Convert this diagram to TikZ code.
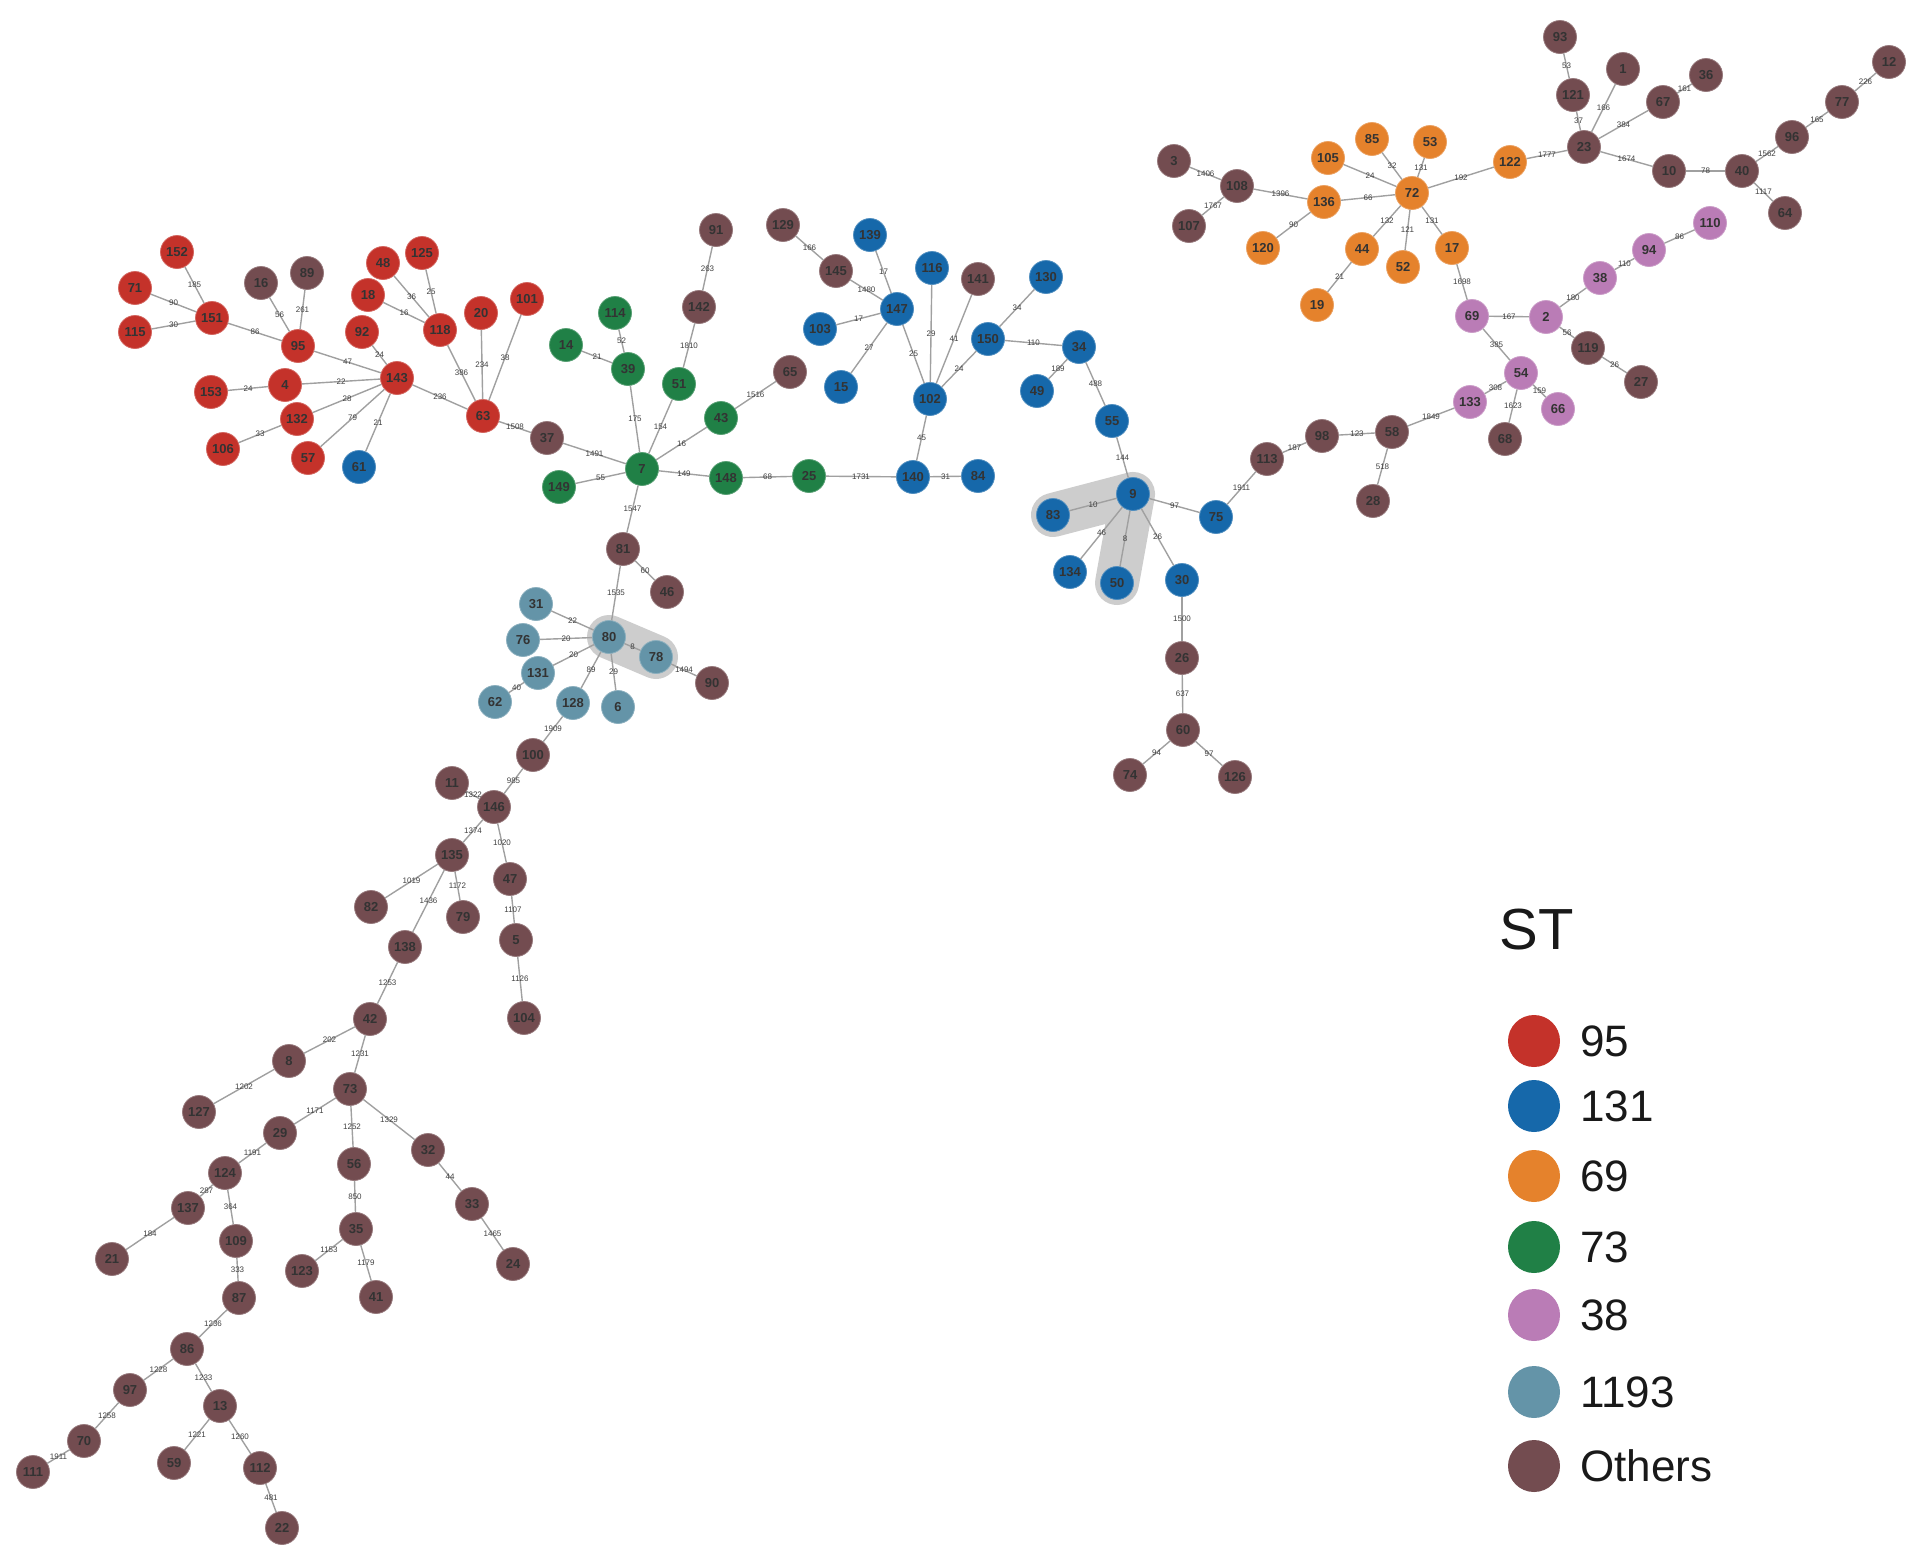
\documentclass[tikz,border=0pt]{standalone}
\usepackage{fontspec}
\setmainfont{Liberation Sans}
\usetikzlibrary{backgrounds}
\definecolor{cRed}{RGB}{196,50,42}
\definecolor{cBlue}{RGB}{22,104,170}
\definecolor{cOrange}{RGB}{229,130,44}
\definecolor{cGreen}{RGB}{32,128,70}
\definecolor{cPink}{RGB}{186,124,182}
\definecolor{cTeal}{RGB}{100,148,168}
\definecolor{cBrown}{RGB}{115,76,80}
\definecolor{cEdge}{RGB}{160,160,160}
\definecolor{cHl}{RGB}{205,205,205}
\tikzset{
  st/.style={circle, minimum size=33pt, inner sep=0pt, line width=0.8pt,
    font=\fontsize{13}{13}\selectfont\bfseries, text=black!80},
  sRed/.style={st, fill=cRed, draw=cRed!75!white},
  sBlue/.style={st, fill=cBlue, draw=cBlue!75!white},
  sOrange/.style={st, fill=cOrange, draw=cOrange!75!white},
  sGreen/.style={st, fill=cGreen, draw=cGreen!75!white},
  sPink/.style={st, fill=cPink, draw=cPink!75!white},
  sTeal/.style={st, fill=cTeal, draw=cTeal!75!white},
  sBrown/.style={st, fill=cBrown, draw=cBrown!75!white},
  conn/.style={draw=cEdge, line width=1.4pt},
  elab/.style={font=\fontsize{8}{8}\selectfont, text=black!75, inner sep=0pt},
  hl/.style={draw=cHl, line width=44pt, line cap=round, line join=round},
  legdot/.style={circle, minimum size=52pt, inner sep=0pt},
  legtxt/.style={anchor=west, font=\fontsize{44}{44}\selectfont, text=black!90, inner sep=0pt}
}
\newcommand\mstnode[4]{\node[#1] (n#2) at (#3,#4) {#2};}
\newcommand\mstedge[3]{\draw[conn] (n#1) -- node[elab]{#3} (n#2);}
\begin{document}
\begin{tikzpicture}[x=1pt, y=-1pt]
\useasboundingbox (0,0) rectangle (1927,1559);
% ---- red cluster
\mstnode{sRed}{152}{177}{252}
\mstnode{sRed}{71}{135}{288}
\mstnode{sRed}{115}{135}{332}
\mstnode{sRed}{151}{212}{318}
\mstnode{sRed}{95}{298}{346}
\mstnode{sRed}{92}{362}{332}
\mstnode{sRed}{48}{383}{263}
\mstnode{sRed}{125}{422}{253}
\mstnode{sRed}{18}{368}{295}
\mstnode{sRed}{118}{440}{330}
\mstnode{sRed}{20}{481}{313}
\mstnode{sRed}{101}{527}{299}
\mstnode{sRed}{143}{397}{378}
\mstnode{sRed}{4}{285}{385}
\mstnode{sRed}{153}{211}{392}
\mstnode{sRed}{132}{297}{419}
\mstnode{sRed}{106}{223}{449}
\mstnode{sRed}{57}{308}{458}
\mstnode{sRed}{63}{483}{416}
\mstnode{sBrown}{16}{261}{283}
\mstnode{sBrown}{89}{307}{273}
\mstnode{sBrown}{37}{547}{438}
\mstnode{sBlue}{61}{359}{467}
% ---- green cluster
\mstnode{sGreen}{14}{566}{345}
\mstnode{sGreen}{114}{615}{313}
\mstnode{sGreen}{39}{628}{369}
\mstnode{sGreen}{51}{679}{384}
\mstnode{sGreen}{43}{721}{418}
\mstnode{sGreen}{7}{642}{469}
\mstnode{sGreen}{149}{559}{487}
\mstnode{sGreen}{148}{726}{478}
\mstnode{sGreen}{25}{809}{476}
\mstnode{sBrown}{91}{716}{230}
\mstnode{sBrown}{142}{699}{307}
\mstnode{sBrown}{65}{790}{372}
\mstnode{sBrown}{129}{783}{225}
\mstnode{sBrown}{145}{836}{271}
\mstnode{sBrown}{141}{978}{279}
% ---- blue cluster
\mstnode{sBlue}{139}{870}{235}
\mstnode{sBlue}{116}{932}{268}
\mstnode{sBlue}{147}{897}{309}
\mstnode{sBlue}{103}{820}{329}
\mstnode{sBlue}{15}{841}{387}
\mstnode{sBlue}{102}{930}{399}
\mstnode{sBlue}{150}{988}{339}
\mstnode{sBlue}{140}{913}{477}
\mstnode{sBlue}{84}{978}{476}
\mstnode{sBlue}{130}{1046}{277}
\mstnode{sBlue}{34}{1079}{347}
\mstnode{sBlue}{49}{1037}{391}
\mstnode{sBlue}{55}{1112}{421}
\mstnode{sBlue}{9}{1133}{494}
\mstnode{sBlue}{83}{1053}{515}
\mstnode{sBlue}{134}{1070}{572}
\mstnode{sBlue}{50}{1117}{583}
\mstnode{sBlue}{30}{1182}{580}
\mstnode{sBlue}{75}{1216}{517}
\mstnode{sBrown}{113}{1267}{459}
\mstnode{sBrown}{98}{1322}{436}
\mstnode{sBrown}{58}{1392}{432}
\mstnode{sBrown}{28}{1373}{501}
\mstnode{sBrown}{26}{1182}{658}
\mstnode{sBrown}{60}{1183}{730}
\mstnode{sBrown}{74}{1130}{775}
\mstnode{sBrown}{126}{1235}{777}
% ---- orange cluster
\mstnode{sOrange}{105}{1328}{158}
\mstnode{sOrange}{85}{1372}{139}
\mstnode{sOrange}{53}{1430}{142}
\mstnode{sOrange}{72}{1412}{193}
\mstnode{sOrange}{136}{1324}{202}
\mstnode{sOrange}{120}{1263}{248}
\mstnode{sOrange}{44}{1362}{249}
\mstnode{sOrange}{52}{1403}{267}
\mstnode{sOrange}{17}{1452}{248}
\mstnode{sOrange}{19}{1317}{305}
\mstnode{sOrange}{122}{1510}{162}
\mstnode{sBrown}{3}{1174}{161}
\mstnode{sBrown}{108}{1237}{186}
\mstnode{sBrown}{107}{1189}{226}
% ---- top right
\mstnode{sBrown}{93}{1560}{37}
\mstnode{sBrown}{121}{1573}{95}
\mstnode{sBrown}{23}{1584}{147}
\mstnode{sBrown}{1}{1623}{69}
\mstnode{sBrown}{67}{1663}{102}
\mstnode{sBrown}{36}{1706}{75}
\mstnode{sBrown}{10}{1669}{171}
\mstnode{sBrown}{40}{1742}{171}
\mstnode{sBrown}{96}{1792}{137}
\mstnode{sBrown}{77}{1842}{102}
\mstnode{sBrown}{12}{1889}{62}
\mstnode{sBrown}{64}{1785}{213}
% ---- pink cluster
\mstnode{sPink}{110}{1710}{223}
\mstnode{sPink}{94}{1649}{250}
\mstnode{sPink}{38}{1600}{278}
\mstnode{sPink}{2}{1546}{317}
\mstnode{sPink}{69}{1472}{316}
\mstnode{sPink}{54}{1521}{373}
\mstnode{sPink}{133}{1470}{402}
\mstnode{sPink}{66}{1558}{409}
\mstnode{sBrown}{119}{1588}{348}
\mstnode{sBrown}{27}{1641}{382}
\mstnode{sBrown}{68}{1505}{439}
% ---- 1193 cluster
\mstnode{sTeal}{31}{536}{604}
\mstnode{sTeal}{80}{609}{637}
\mstnode{sTeal}{76}{523}{640}
\mstnode{sTeal}{78}{656}{657}
\mstnode{sTeal}{131}{538}{673}
\mstnode{sTeal}{62}{495}{702}
\mstnode{sTeal}{128}{573}{703}
\mstnode{sTeal}{6}{618}{707}
\mstnode{sBrown}{81}{623}{549}
\mstnode{sBrown}{46}{667}{592}
\mstnode{sBrown}{90}{712}{683}
% ---- lower chain
\mstnode{sBrown}{100}{533}{755}
\mstnode{sBrown}{11}{452}{783}
\mstnode{sBrown}{146}{494}{807}
\mstnode{sBrown}{135}{452}{855}
\mstnode{sBrown}{47}{510}{879}
\mstnode{sBrown}{82}{371}{907}
\mstnode{sBrown}{79}{463}{917}
\mstnode{sBrown}{5}{516}{940}
\mstnode{sBrown}{138}{405}{947}
\mstnode{sBrown}{104}{524}{1018}
\mstnode{sBrown}{42}{370}{1019}
\mstnode{sBrown}{8}{289}{1061}
\mstnode{sBrown}{127}{199}{1112}
\mstnode{sBrown}{73}{350}{1089}
\mstnode{sBrown}{29}{280}{1133}
\mstnode{sBrown}{56}{354}{1164}
\mstnode{sBrown}{32}{428}{1150}
\mstnode{sBrown}{124}{225}{1173}
\mstnode{sBrown}{137}{188}{1208}
\mstnode{sBrown}{109}{236}{1241}
\mstnode{sBrown}{33}{472}{1204}
\mstnode{sBrown}{35}{356}{1229}
\mstnode{sBrown}{123}{302}{1271}
\mstnode{sBrown}{41}{376}{1297}
\mstnode{sBrown}{24}{513}{1264}
\mstnode{sBrown}{87}{239}{1298}
\mstnode{sBrown}{21}{112}{1259}
\mstnode{sBrown}{86}{187}{1349}
\mstnode{sBrown}{97}{130}{1390}
\mstnode{sBrown}{13}{220}{1406}
\mstnode{sBrown}{70}{84}{1441}
\mstnode{sBrown}{111}{33}{1472}
\mstnode{sBrown}{59}{174}{1463}
\mstnode{sBrown}{112}{260}{1468}
\mstnode{sBrown}{22}{282}{1528}
% ---- highlights
\begin{scope}[on background layer]
\draw[hl] (n83.center) -- (n9.center) -- (n50.center);
\draw[hl] (n80.center) -- (n78.center);
\end{scope}
% ---- edges
\mstedge{152}{151}{185}
\mstedge{71}{151}{90}
\mstedge{115}{151}{30}
\mstedge{151}{95}{86}
\mstedge{16}{95}{56}
\mstedge{89}{95}{261}
\mstedge{95}{143}{47}
\mstedge{92}{143}{24}
\mstedge{4}{143}{22}
\mstedge{153}{4}{24}
\mstedge{132}{143}{28}
\mstedge{106}{132}{33}
\mstedge{57}{143}{79}
\mstedge{61}{143}{21}
\mstedge{143}{63}{236}
\mstedge{18}{118}{16}
\mstedge{48}{118}{36}
\mstedge{125}{118}{25}
\mstedge{118}{63}{386}
\mstedge{20}{63}{234}
\mstedge{101}{63}{38}
\mstedge{63}{37}{1508}
\mstedge{37}{7}{1491}
\mstedge{14}{39}{21}
\mstedge{114}{39}{52}
\mstedge{39}{7}{175}
\mstedge{51}{7}{154}
\mstedge{142}{51}{1810}
\mstedge{91}{142}{263}
\mstedge{43}{7}{16}
\mstedge{65}{43}{1516}
\mstedge{149}{7}{55}
\mstedge{7}{148}{149}
\mstedge{148}{25}{68}
\mstedge{25}{140}{1731}
\mstedge{7}{81}{1547}
\mstedge{140}{84}{31}
\mstedge{140}{102}{45}
\mstedge{102}{147}{25}
\mstedge{102}{116}{29}
\mstedge{102}{141}{41}
\mstedge{102}{150}{24}
\mstedge{147}{139}{17}
\mstedge{147}{145}{1480}
\mstedge{145}{129}{166}
\mstedge{147}{103}{17}
\mstedge{147}{15}{27}
\mstedge{150}{130}{34}
\mstedge{150}{34}{110}
\mstedge{34}{49}{189}
\mstedge{34}{55}{488}
\mstedge{55}{9}{144}
\mstedge{9}{83}{10}
\mstedge{9}{134}{46}
\mstedge{9}{50}{8}
\mstedge{9}{30}{26}
\mstedge{9}{75}{97}
\mstedge{75}{113}{1911}
\mstedge{113}{98}{187}
\mstedge{98}{58}{123}
\mstedge{58}{28}{518}
\mstedge{58}{133}{1849}
\mstedge{30}{26}{1500}
\mstedge{26}{60}{637}
\mstedge{60}{74}{94}
\mstedge{60}{126}{97}
\mstedge{133}{54}{308}
\mstedge{54}{66}{159}
\mstedge{54}{68}{1623}
\mstedge{54}{69}{385}
\mstedge{69}{2}{167}
\mstedge{69}{17}{1698}
\mstedge{2}{38}{180}
\mstedge{38}{94}{110}
\mstedge{94}{110}{86}
\mstedge{2}{119}{56}
\mstedge{119}{27}{26}
\mstedge{72}{105}{24}
\mstedge{72}{85}{32}
\mstedge{72}{53}{131}
\mstedge{72}{136}{66}
\mstedge{72}{44}{132}
\mstedge{72}{52}{121}
\mstedge{72}{17}{131}
\mstedge{72}{122}{192}
\mstedge{136}{108}{1396}
\mstedge{136}{120}{90}
\mstedge{44}{19}{21}
\mstedge{108}{3}{1406}
\mstedge{108}{107}{1767}
\mstedge{122}{23}{1777}
\mstedge{23}{121}{37}
\mstedge{121}{93}{53}
\mstedge{23}{1}{166}
\mstedge{23}{67}{384}
\mstedge{67}{36}{161}
\mstedge{23}{10}{1674}
\mstedge{10}{40}{78}
\mstedge{40}{96}{1562}
\mstedge{96}{77}{165}
\mstedge{77}{12}{226}
\mstedge{40}{64}{1117}
\mstedge{81}{46}{60}
\mstedge{81}{80}{1535}
\mstedge{80}{31}{22}
\mstedge{80}{76}{20}
\mstedge{80}{131}{20}
\mstedge{131}{62}{40}
\mstedge{80}{128}{89}
\mstedge{80}{6}{29}
\mstedge{80}{78}{8}
\mstedge{78}{90}{1494}
\mstedge{128}{100}{1909}
\mstedge{100}{146}{985}
\mstedge{146}{11}{1322}
\mstedge{146}{135}{1374}
\mstedge{146}{47}{1020}
\mstedge{47}{5}{1107}
\mstedge{5}{104}{1126}
\mstedge{135}{82}{1019}
\mstedge{135}{79}{1172}
\mstedge{135}{138}{1436}
\mstedge{138}{42}{1253}
\mstedge{42}{8}{202}
\mstedge{8}{127}{1202}
\mstedge{42}{73}{1231}
\mstedge{73}{29}{1171}
\mstedge{73}{56}{1252}
\mstedge{73}{32}{1329}
\mstedge{32}{33}{44}
\mstedge{33}{24}{1465}
\mstedge{56}{35}{850}
\mstedge{35}{123}{1153}
\mstedge{35}{41}{1179}
\mstedge{29}{124}{1191}
\mstedge{124}{137}{287}
\mstedge{124}{109}{364}
\mstedge{137}{21}{184}
\mstedge{109}{87}{333}
\mstedge{87}{86}{1236}
\mstedge{86}{97}{1228}
\mstedge{86}{13}{1233}
\mstedge{97}{70}{1258}
\mstedge{70}{111}{1911}
\mstedge{13}{59}{1221}
\mstedge{13}{112}{1260}
\mstedge{112}{22}{481}
% ---- legend
\node[font=\fontsize{58}{58}\selectfont, text=black!90, inner sep=0pt] (legST) at (1537,930) {ST};
\node[legdot, fill=cRed] (lg1) at (1534,1041) {};
\node[legtxt] (lt1) at (1580,1041) {95};
\node[legdot, fill=cBlue] (lg2) at (1534,1106) {};
\node[legtxt] (lt2) at (1580,1106) {131};
\node[legdot, fill=cOrange] (lg3) at (1534,1176) {};
\node[legtxt] (lt3) at (1580,1176) {69};
\node[legdot, fill=cGreen] (lg4) at (1534,1247) {};
\node[legtxt] (lt4) at (1580,1247) {73};
\node[legdot, fill=cPink] (lg5) at (1534,1315) {};
\node[legtxt] (lt5) at (1580,1315) {38};
\node[legdot, fill=cTeal] (lg6) at (1534,1392) {};
\node[legtxt] (lt6) at (1580,1392) {1193};
\node[legdot, fill=cBrown] (lg7) at (1534,1466) {};
\node[legtxt] (lt7) at (1580,1466) {Others};
\end{tikzpicture}
\end{document}
